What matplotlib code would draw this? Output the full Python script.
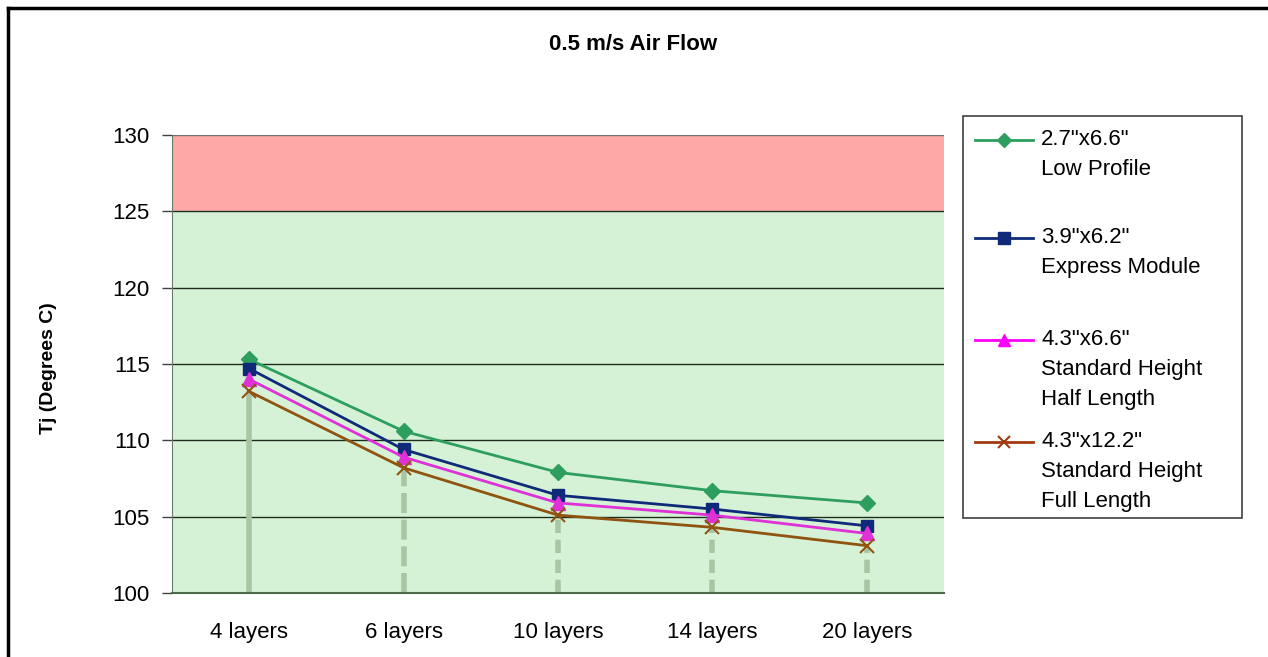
import matplotlib
matplotlib.use("Agg")
import matplotlib.pyplot as plt
from matplotlib.lines import Line2D
from matplotlib.patches import Rectangle

plt.rcParams['font.family'] = ['Liberation Sans', 'DejaVu Sans']

categories = ["4 layers", "6 layers", "10 layers", "14 layers", "20 layers"]
low_profile = [115.3, 110.6, 107.9, 106.7, 105.9]
express_module = [114.7, 109.4, 106.4, 105.5, 104.4]
std_half = [114.0, 108.9, 105.9, 105.1, 103.9]
std_full = [113.2, 108.2, 105.1, 104.3, 103.1]
series_labels = ['2.7"x6.6"\nLow Profile', '3.9"x6.2"\nExpress Module',
                 '4.3"x6.6"\nStandard Height\nHalf Length',
                 '4.3"x12.2"\nStandard Height\nFull Length']
yticks = [100, 105, 110, 115, 120, 125, 130]

W, H = 1268, 657
fig = plt.figure(figsize=(W / 100, H / 100), dpi=100)
ax = fig.add_axes([172 / W, 1 - 593 / H, (944 - 172) / W, (593 - 135) / H])

x = [i + 0.5 for i in range(len(categories))]
ax.set_xlim(0, len(categories))
ax.set_ylim(100, 130)

ax.axhspan(125, 130, color='#ffa8a8', zorder=0)
ax.axhspan(100, 125, color='#d6f2d6', zorder=0)
for yv in yticks[1:-1]:
    ax.axhline(yv, color='#1e2e1e', lw=1.0, zorder=1)
ax.axhline(130, color='#707070', lw=1.0, zorder=1)

# drop lines
drop_color = '#a9c6a4'
for i, (xi, v) in enumerate(zip(x, std_full)):
    if i == 0:
        ls = '-'
    elif i == 1:
        ls = (0, (3.6, 1.2))
    else:
        ls = (0, (2.4, 1.2))
    ax.plot([xi, xi], [100, v], color=drop_color, lw=4, linestyle=ls, zorder=2,
            solid_capstyle='butt', dash_capstyle='butt')

styles = [
    (low_profile, '#2e9e5e', 'D', 8),
    (express_module, '#0f2a78', 's', 9),
    (std_half, '#e030d8', '^', 10),
    (std_full, '#8e5410', 'x', 10),
]
for vals, c, m, ms in styles:
    ax.plot(x, vals, color=c, lw=2, marker=m, markersize=ms, markeredgewidth=1.5 if m == 'x' else 1,
            zorder=3, clip_on=False)

ax.set_xticks(x)
ax.set_xticklabels(categories, fontsize=16)
ax.tick_params(axis='x', length=0, pad=21)
ax.set_yticks(yticks)
ax.set_yticklabels([str(t) for t in yticks], fontsize=16)
ax.tick_params(axis='y', direction='out', length=7, width=1, color='#404040', pad=9)

for s in ['top', 'right']:
    ax.spines[s].set_visible(False)
ax.spines['left'].set_color('#6a7a6a')
ax.spines['bottom'].set_color('#4a6a4a')
ax.spines['bottom'].set_linewidth(1.5)

ax.set_ylabel('Tj (Degrees C)', fontsize=14, fontweight='bold')
ax.yaxis.set_label_coords(-0.149, 0.49)

fig.text(633 / W, 1 - 45 / H, '0.5 m/s Air Flow', fontsize=16, fontweight='bold',
         ha='center', va='center')

# figure border (left and top)
fig.add_artist(Line2D([8 / W, 8 / W], [0, 1 - 8 / H], color='black', lw=2.5, transform=fig.transFigure))
fig.add_artist(Line2D([8 / W, 1], [1 - 8 / H, 1 - 8 / H], color='black', lw=2.5, transform=fig.transFigure))

# legend
fig.add_artist(Rectangle((963 / W, 1 - 518 / H), (1242 - 963) / W, (518 - 116) / H,
                         transform=fig.transFigure, facecolor='white', edgecolor='#404040', lw=1.2))
entry_y = [140, 238, 340, 442]
leg_colors = ['#2e9e5e', '#0f2a78', '#ff00ff', '#a03a10']
for (vals, c, m, ms), lc, ey, lab in zip(styles, leg_colors, entry_y, series_labels):
    yy = 1 - ey / H
    fig.add_artist(Line2D([975 / W, 1033 / W], [yy, yy], color=lc, lw=2, transform=fig.transFigure))
    fig.add_artist(Line2D([1004 / W], [yy], color=lc, marker=m, markersize=ms - 1,
                          markeredgewidth=1.5 if m == 'x' else 1, transform=fig.transFigure))
    fig.text(1041 / W, yy + 11 / H, lab, fontsize=16, ha='left', va='top', linespacing=1.57)

fig.savefig('out.png', dpi=100)
